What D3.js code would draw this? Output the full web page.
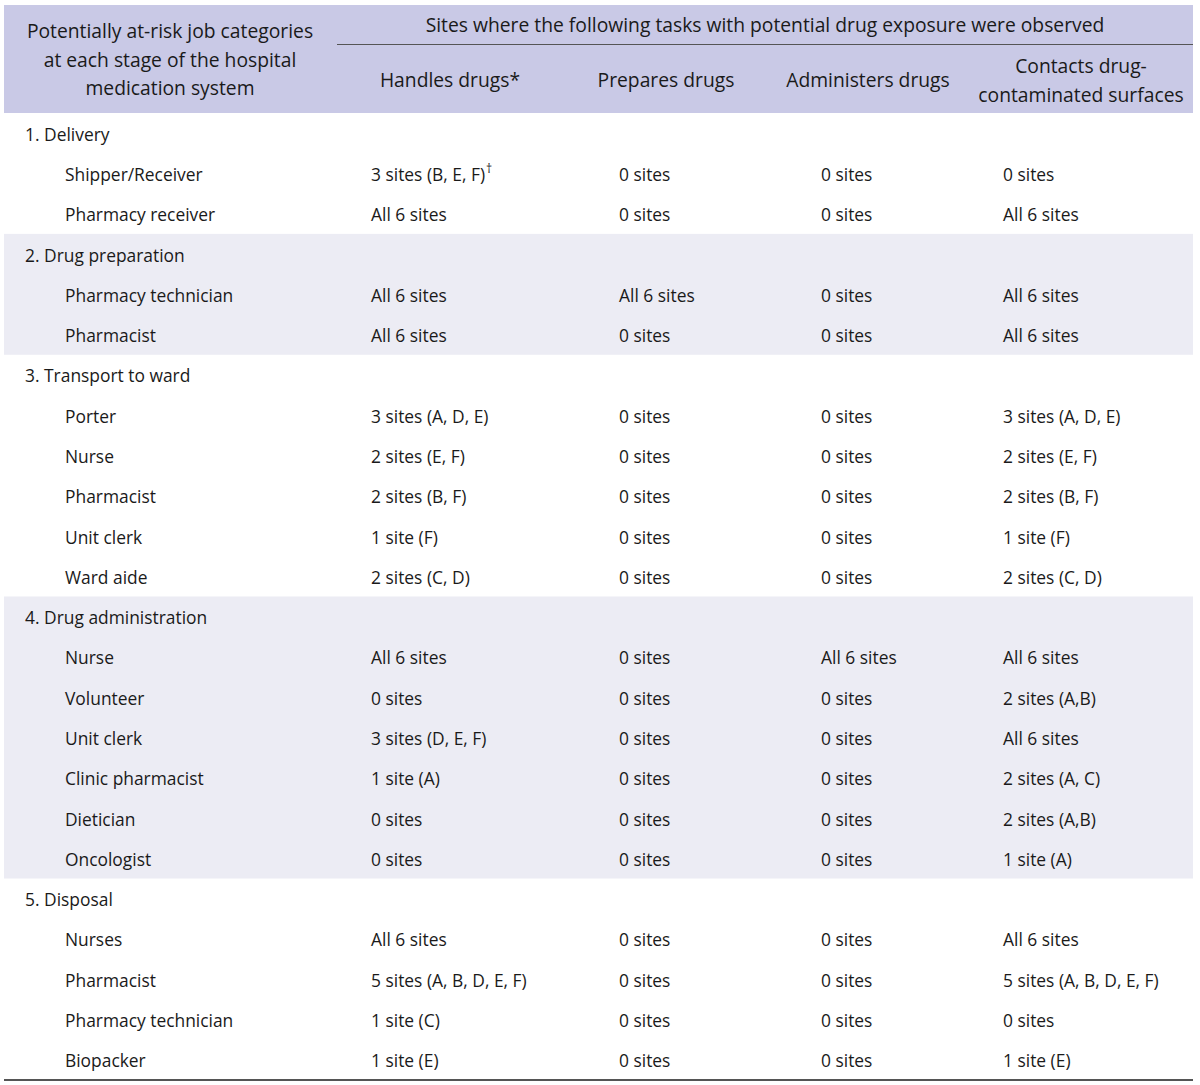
<!DOCTYPE html>
<html><head><meta charset="utf-8">
<script src="https://cdn.jsdelivr.net/npm/d3@7"></script>
<style>body{margin:0;background:#fff}svg text{font-family:"Open Sans",sans-serif;fill:#1a1a1a}</style>
</head><body><svg id="c" width="1200" height="1085"></svg>
<script>
const stages = ["1. Delivery","2. Drug preparation","3. Transport to ward","4. Drug administration","5. Disposal"];
const jobStage = [0,0,1,1,2,2,2,2,2,3,3,3,3,3,3,4,4,4,4];
const jobs = ["Shipper/Receiver","Pharmacy receiver","Pharmacy technician","Pharmacist","Porter","Nurse","Pharmacist","Unit clerk","Ward aide","Nurse","Volunteer","Unit clerk","Clinic pharmacist","Dietician","Oncologist","Nurses","Pharmacist","Pharmacy technician","Biopacker"];
const handles = ["3 sites (B, E, F)","All 6 sites","All 6 sites","All 6 sites","3 sites (A, D, E)","2 sites (E, F)","2 sites (B, F)","1 site (F)","2 sites (C, D)","All 6 sites","0 sites","3 sites (D, E, F)","1 site (A)","0 sites","0 sites","All 6 sites","5 sites (A, B, D, E, F)","1 site (C)","1 site (E)"];
const prepares = ["0 sites","0 sites","All 6 sites","0 sites","0 sites","0 sites","0 sites","0 sites","0 sites","0 sites","0 sites","0 sites","0 sites","0 sites","0 sites","0 sites","0 sites","0 sites","0 sites"];
const administers = ["0 sites","0 sites","0 sites","0 sites","0 sites","0 sites","0 sites","0 sites","0 sites","All 6 sites","0 sites","0 sites","0 sites","0 sites","0 sites","0 sites","0 sites","0 sites","0 sites"];
const contacts = ["0 sites","All 6 sites","All 6 sites","All 6 sites","3 sites (A, D, E)","2 sites (E, F)","2 sites (B, F)","1 site (F)","2 sites (C, D)","All 6 sites","2 sites (A,B)","All 6 sites","2 sites (A, C)","2 sites (A,B)","1 site (A)","All 6 sites","5 sites (A, B, D, E, F)","0 sites","1 site (E)"];
const footMarks = {0:"†"};
const colHeaders = [["Handles drugs*"],["Prepares drugs"],["Administers drugs"],["Contacts drug-","contaminated surfaces"]];
const firstHeader = ["Potentially at-risk job categories","at each stage of the hospital","medication system"];
const spanHeader = "Sites where the following tasks with potential drug exposure were observed";

const svg = d3.select("#c");
const L = 4, R = 1193, headTop = 5, headBot = 113, bodyBot = 1080;
const FS = 17.4, HFS = 19.3;

const rows = [];
stages.forEach((s, si) => {
  rows.push({type:"stage", stage:si, label:s});
  jobStage.forEach((st, j) => { if (st === si) rows.push({type:"job", stage:si, idx:j}); });
});
const y = d3.scaleBand().domain(d3.range(rows.length)).range([headBot, bodyBot]);
const colX = d3.scaleOrdinal().domain([0,1,2,3]).range([371,619,821,1003]);
const colC = d3.scaleOrdinal().domain([0,1,2,3]).range([450,666,868,1081]);
const cols = [handles, prepares, administers, contacts];

svg.append("rect").attr("x",L).attr("y",headTop).attr("width",R-L).attr("height",headBot-headTop).attr("fill","#c9c9e6");
stages.forEach((s, si) => {
  if (si % 2 === 1) {
    const idxs = rows.map((r,i)=>r.stage===si?i:-1).filter(i=>i>=0);
    const y0 = y(idxs[0]), y1 = y(idxs[idxs.length-1]) + y.bandwidth();
    svg.append("rect").attr("x",L).attr("y",y0).attr("width",R-L).attr("height",y1-y0).attr("fill","#ececf4");
  }
});
svg.append("text").attr("text-anchor","middle").attr("font-size",HFS)
  .selectAll("tspan").data(firstHeader).join("tspan").attr("x",170).attr("y",(d,i)=>38+i*28.5).text(d=>d);
svg.append("text").attr("x",765).attr("y",32).attr("text-anchor","middle").attr("font-size",HFS).text(spanHeader);
svg.append("line").attr("x1",337).attr("x2",R).attr("y1",44.5).attr("y2",44.5).attr("stroke","#555").attr("stroke-width",1);
colHeaders.forEach((h, ci) => {
  const y0 = h.length === 1 ? 87 : 73;
  svg.append("text").attr("text-anchor","middle").attr("font-size",HFS)
    .selectAll("tspan").data(h).join("tspan").attr("x",colC(ci)).attr("y",(d,i)=>y0+i*28.5).text(d=>d);
});
const g = svg.append("g");
rows.forEach((r, i) => {
  const cy = y(i) + y.bandwidth()/2 + 7.5;
  if (r.type === "stage") {
    g.append("text").attr("x",25).attr("y",cy).attr("font-size",FS).text(r.label);
  } else {
    g.append("text").attr("x",65).attr("y",cy).attr("font-size",FS).text(jobs[r.idx]);
    cols.forEach((arr, ci) => {
      const t = g.append("text").attr("x",colX(ci)).attr("y",cy).attr("font-size",FS).text(arr[r.idx]);
      if (ci === 0 && footMarks[r.idx]) t.append("tspan").attr("dx",1).attr("dy",-8).attr("font-size",12).text(footMarks[r.idx]);
    });
  }
});
svg.append("line").attr("x1",L).attr("x2",R).attr("y1",bodyBot).attr("y2",bodyBot).attr("stroke","#555").attr("stroke-width",2);
</script></body></html>
